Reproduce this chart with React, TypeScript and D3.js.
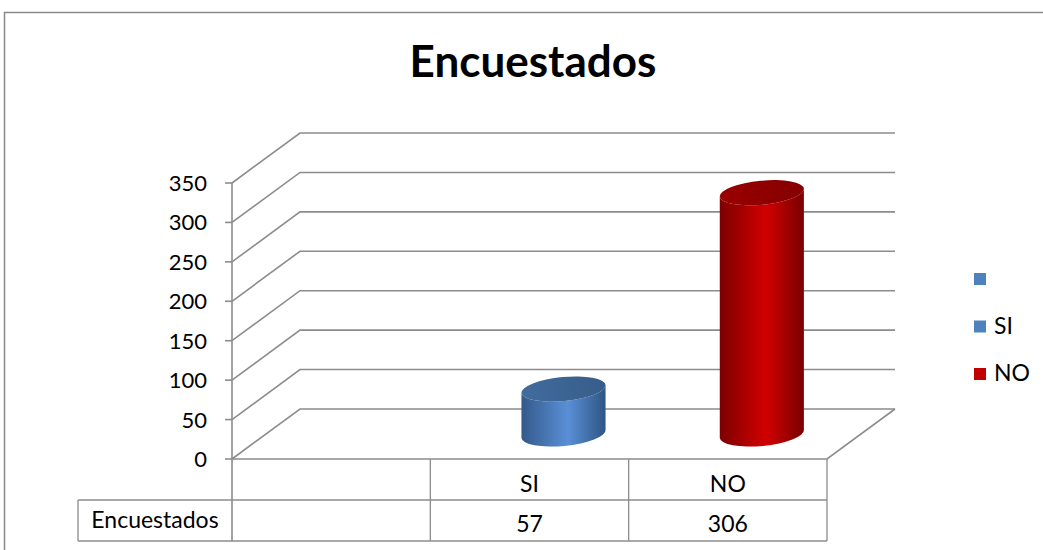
import * as React from "react"
import * as d3 from "d3"

// chart data
const categories = ["", "SI", "NO"]
const values: (number | null)[] = [null, 57, 306]
const yTicks = [0, 50, 100, 150, 200, 250, 300, 350]
const seriesName = "Encuestados"
const pointColors = ["#4f81bd", "#4f81bd", "#c00000"]

const W = 1043
const H = 550
const FONT = "Lato, 'Open Sans', sans-serif"
const GRID = "#8c8c8c"

// 3d depth offset of the back wall
const dx = 68
const dy = -50

const grads = [
  { id: "g0", stops: ["#33598a", "#5a8fd6", "#2f5584"], top: ["#416c9e", "#375d8a"] },
  { id: "g1", stops: ["#33598a", "#5a8fd6", "#2f5584"], top: ["#416c9e", "#375d8a"] },
  { id: "g2", stops: ["#7d0000", "#d20000", "#780000"], top: ["#9a0000", "#850000"] },
]

export default function App(): React.JSX.Element {
  const x = d3.scaleBand<string>().domain(categories).range([232, 827]).padding(0)
  const y = d3.scaleLinear().domain([0, 350]).range([459, 183])
  const bw = x.bandwidth()

  const x0 = x.range()[0]
  const x1 = x.range()[1]
  const rowH = 41
  const tableTop = y(0)
  const tableMid = tableTop + rowH
  const tableBot = tableMid + rowH
  const labelLeft = 78

  const rx = bw * 0.213
  const ry = 12
  const theta = (-5.5 * Math.PI) / 180
  const a = rx * Math.cos(theta)
  const b = -rx * Math.sin(theta)

  const cylinders = categories.map((c, i) => {
    const v = values[i]
    if (v == null) return null
    const cx = (x(c) as number) + bw / 2 + dx / 2
    const yb = y(0) + dy / 2
    const yt = y(v) + dy / 2
    const rot = (theta * 180) / Math.PI
    const body =
      `M${cx - a},${yt + b} L${cx - a},${yb + b} ` +
      `A${rx},${ry} ${rot} 0 0 ${cx + a},${yb - b} ` +
      `L${cx + a},${yt - b} A${rx},${ry} ${rot} 0 1 ${cx - a},${yt + b} Z`
    return (
      <g key={c}>
        <path d={body} fill={`url(#${grads[i].id})`} />
        <ellipse
          cx={cx}
          cy={yt}
          rx={rx}
          ry={ry}
          transform={`rotate(${rot},${cx},${yt})`}
          fill={`url(#${grads[i].id}t)`}
        />
      </g>
    )
  })

  return (
    <svg
      width={W}
      height={H}
      style={{ position: "absolute", left: 0, top: 0, background: "#fff" }}
      fontFamily={FONT}
    >
      <defs>
        {grads.map((g) => (
          <React.Fragment key={g.id}>
            <linearGradient id={g.id} x1="0%" x2="100%" y1="0%" y2="0%">
              <stop offset="0%" stopColor={g.stops[0]} />
              <stop offset="55%" stopColor={g.stops[1]} />
              <stop offset="100%" stopColor={g.stops[2]} />
            </linearGradient>
            <linearGradient id={g.id + "t"} x1="0%" x2="100%" y1="0%" y2="0%">
              <stop offset="0%" stopColor={g.top[0]} />
              <stop offset="100%" stopColor={g.top[1]} />
            </linearGradient>
          </React.Fragment>
        ))}
      </defs>

      {/* outer chart border */}
      <path d={`M4.5,${H} V12.5 H${W}`} fill="none" stroke="#8a8a8a" strokeWidth={1.5} />

      <text x={533} y={77} textAnchor="middle" fontSize={44} fontWeight="bold" fill="#000">
        {seriesName}
      </text>

      {/* walls: gridlines on side and back */}
      {yTicks.map((t) => (
        <polyline
          key={t}
          points={`${x0},${y(t)} ${x0 + dx},${y(t) + dy} ${x1 + dx},${y(t) + dy}`}
          fill="none"
          stroke={GRID}
          strokeWidth={1.6}
        />
      ))}

      {/* floor */}
      <polyline
        points={`${x0},${y(0)} ${x1},${y(0)} ${x1 + dx},${y(0) + dy}`}
        fill="none"
        stroke={GRID}
        strokeWidth={1.6}
      />

      {/* y axis */}
      <line x1={x0} x2={x0} y1={y(350)} y2={tableBot} stroke={GRID} strokeWidth={1.6} />
      {yTicks.map((t) => (
        <g key={t}>
          <line x1={x0 - 7} x2={x0} y1={y(t)} y2={y(t)} stroke={GRID} strokeWidth={1.6} />
          <text x={207} y={y(t) + 8} textAnchor="end" fontSize={22} fill="#000">
            {t}
          </text>
        </g>
      ))}

      {/* data table */}
      <g stroke={GRID} strokeWidth={1.3}>
        {categories.map((c) => (
          <line
            key={c}
            x1={(x(c) as number) + bw}
            x2={(x(c) as number) + bw}
            y1={tableTop}
            y2={tableBot}
          />
        ))}
        <line x1={labelLeft} x2={x1} y1={tableMid} y2={tableMid} />
        <line x1={labelLeft} x2={x1} y1={tableBot} y2={tableBot} />
        <line x1={labelLeft} x2={labelLeft} y1={tableMid} y2={tableBot} />
      </g>
      {categories.map((c, i) => (
        <g key={c} fontSize={23} textAnchor="middle" fill="#000">
          <text x={(x(c) as number) + bw / 2} y={tableTop + 33}>
            {c}
          </text>
          <text x={(x(c) as number) + bw / 2} y={tableMid + 32}>
            {values[i] ?? ""}
          </text>
        </g>
      ))}
      <text x={(labelLeft + x0) / 2} y={tableMid + 28} textAnchor="middle" fontSize={23} fill="#000">
        {seriesName}
      </text>

      {cylinders}

      {/* legend */}
      {categories.map((c, i) => (
        <g key={c} transform={`translate(974, ${273 + i * 47.5})`}>
          <rect width={12} height={12} fill={pointColors[i]} />
          <text x={20} y={13} fontSize={23} fill="#000">
            {c}
          </text>
        </g>
      ))}
    </svg>
  )
}
